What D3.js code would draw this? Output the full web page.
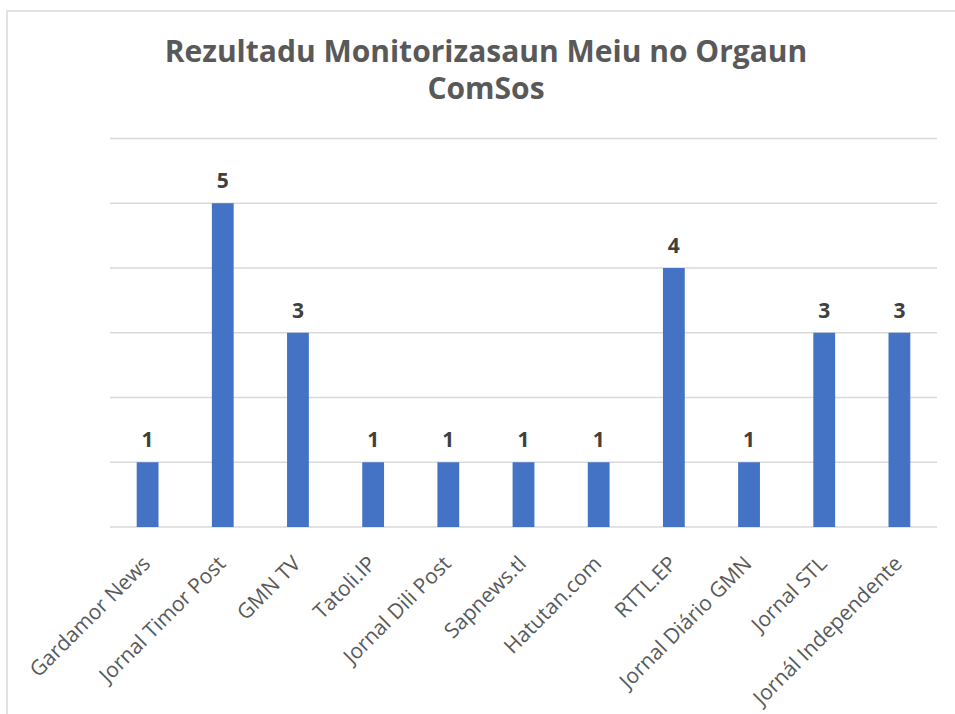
<!DOCTYPE html>
<html>
<head>
<meta charset="utf-8">
<script src="https://cdn.jsdelivr.net/npm/d3@7"></script>
<style>
  body { margin: 0; background: #fff; }
  svg { display: block; font-family: "Open Sans", Lato, sans-serif; }
</style>
</head>
<body>
<div id="chart"></div>
<script>
const categories = ["Gardamor News", "Jornal Timor Post", "GMN TV", "Tatoli.IP", "Jornal Dili Post",
  "Sapnews.tl", "Hatutan.com", "RTTL.EP", "Jornal Diário GMN", "Jornal STL", "Jornál Independente"];
const values = [1, 5, 3, 1, 1, 1, 1, 4, 1, 3, 3];
const yTicks = [0, 1, 2, 3, 4, 5, 6];
const titleLines = ["Rezultadu Monitorizasaun Meiu no Orgaun", "ComSos"];

const width = 955, height = 714;
const margin = {top: 138.5, right: 18, bottom: 187, left: 110};

const svg = d3.select("#chart")
  .append("svg")
  .attr("width", width)
  .attr("height", height);

// chart border (runs off the right and bottom edges)
svg.append("rect")
  .attr("x", 7).attr("y", 11)
  .attr("width", width).attr("height", height)
  .attr("fill", "none")
  .attr("stroke", "#d9d9d9")
  .attr("stroke-width", 1.5);

const x = d3.scaleBand()
  .domain(categories)
  .range([margin.left, width - margin.right])
  .paddingInner(0.71)
  .paddingOuter(0.355);

const y = d3.scaleLinear()
  .domain([0, 6])
  .range([height - margin.bottom, margin.top]);

// gridlines
svg.append("g")
  .selectAll("line")
  .data(yTicks)
  .join("line")
  .attr("x1", margin.left)
  .attr("x2", width - margin.right)
  .attr("y1", d => y(d))
  .attr("y2", d => y(d))
  .attr("stroke", "#d9d9d9")
  .attr("stroke-width", 1.3);

// bars
svg.append("g")
  .selectAll("rect")
  .data(values)
  .join("rect")
  .attr("x", (d, i) => x(categories[i]))
  .attr("y", d => y(d))
  .attr("width", x.bandwidth())
  .attr("height", d => y(0) - y(d))
  .attr("fill", "#4472c4");

// value labels
svg.append("g")
  .selectAll("text")
  .data(values)
  .join("text")
  .attr("x", (d, i) => x(categories[i]) + x.bandwidth() / 2)
  .attr("y", d => y(d) - 15)
  .attr("text-anchor", "middle")
  .attr("font-size", 21)
  .attr("font-weight", "bold")
  .attr("fill", "#404040")
  .text(d => d);

// x axis labels, rotated
const xAxis = d3.axisBottom(x).tickSize(0).tickPadding(0);
const gx = svg.append("g")
  .attr("transform", `translate(0,${y(0)})`)
  .call(xAxis);
gx.select(".domain").remove();
gx.selectAll("text")
  .attr("font-family", "'Open Sans', Lato, sans-serif")
  .attr("font-size", 21)
  .attr("fill", "#595959")
  .attr("text-anchor", "end")
  .attr("dy", 0)
  .attr("transform", "translate(4,38) rotate(-45)");

// title
svg.append("text")
  .attr("x", 486)
  .attr("y", 62)
  .attr("text-anchor", "middle")
  .attr("font-size", 30)
  .attr("font-weight", "bold")
  .attr("fill", "#595959")
  .selectAll("tspan")
  .data(titleLines)
  .join("tspan")
  .attr("x", 486)
  .attr("dy", (d, i) => i === 0 ? 0 : 37)
  .text(d => d);
</script>
</body>
</html>
